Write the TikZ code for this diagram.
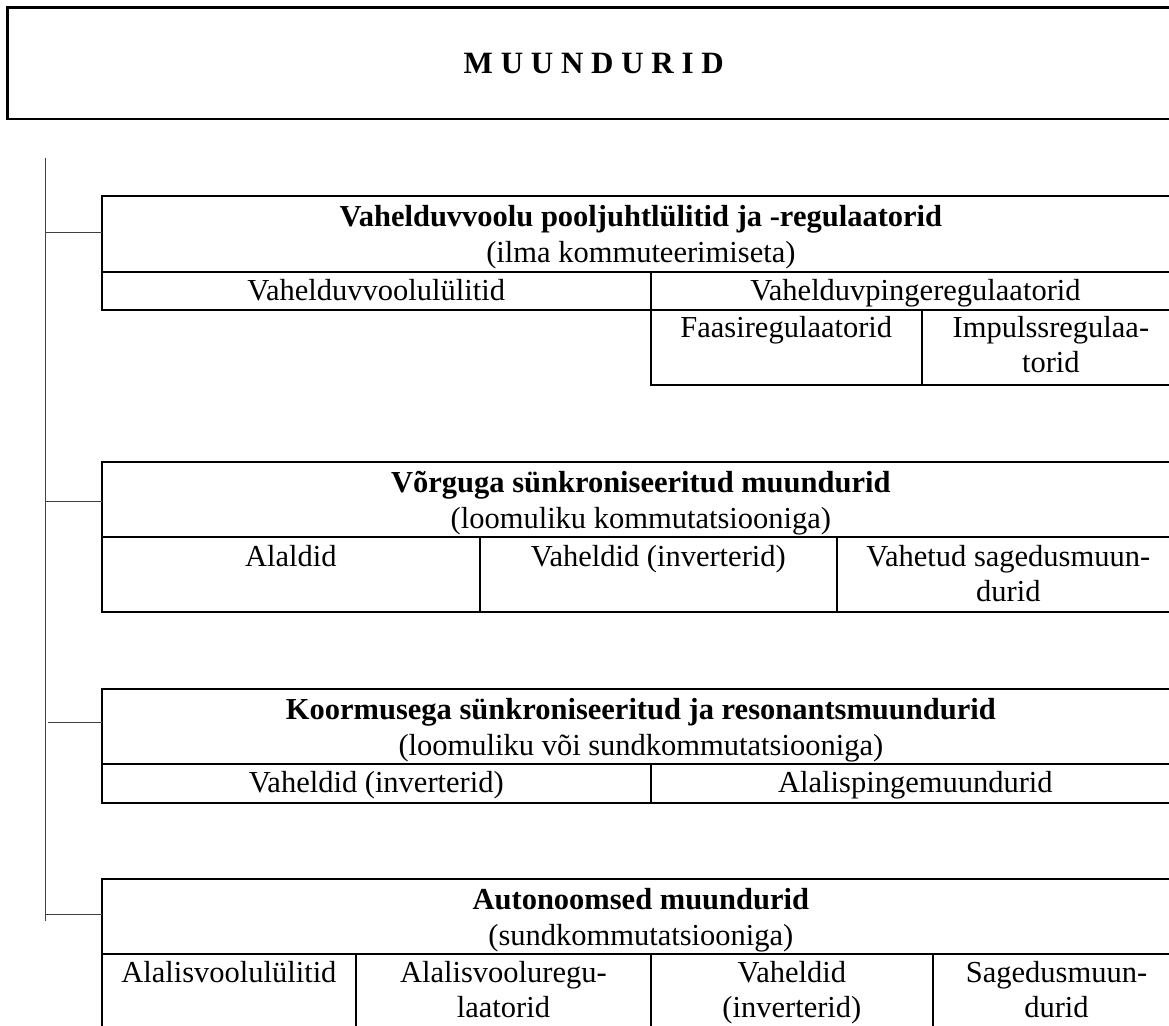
\documentclass[tikz,border=0pt]{standalone}
\usepackage{fontspec}
\setmainfont{Liberation Serif}
\usetikzlibrary{calc}
\begin{document}
\begin{tikzpicture}[x=1pt,y=-1pt,
  every node/.style={inner sep=0pt, outer sep=0pt},
  cellbox/.style={draw, line width=2pt, anchor=north west},
  txt/.style={anchor=base, font=\fontsize{30.5}{35}\selectfont},
  head/.style={anchor=base, font=\fontsize{30.5}{35}\selectfont\bfseries},
  spine/.style={draw=black!75, line width=1.2pt}]
\useasboundingbox (0,0) rectangle (1169,1025);
\clip (0,0) rectangle (1169,1025);

% title
\node[draw, line width=2.5pt, anchor=north west, minimum width=1172.5pt,
      minimum height=111.7pt, font=\fontsize{31}{36}\selectfont\bfseries]
      (title) at (7.5,7.3) {M U U N D U R I D};

% group 1
\node[cellbox, minimum width=1078.3pt, minimum height=75.7pt] (h1) at (101.7,196) {};
\node[cellbox, minimum width=549.1pt, minimum height=38.6pt] (h1a) at (101.7,271.7) {};
\node[cellbox, minimum width=529.2pt, minimum height=38.6pt] (h1b) at (650.8,271.7) {};
\node[cellbox, minimum width=271pt, minimum height=75pt] (h1c) at (650.8,310.3) {};
\node[cellbox, minimum width=258.2pt, minimum height=75pt] (h1d) at (921.8,310.3) {};
\node[head] (h1t1) at ($(h1.north)+(0,30.7)$) {Vahelduvvoolu pooljuhtlülitid ja -regulaatorid};
\node[txt] (h1t2) at ($(h1.north)+(0,66)$) {(ilma kommuteerimiseta)};
\node[txt] (h1at) at ($(h1a.north)+(0,28.3)$) {Vahelduvvoolulülitid};
\node[txt] (h1bt) at ($(h1b.north)+(0,28.3)$) {Vahelduvpingeregulaatorid};
\node[txt] (h1ct) at ($(h1c.north)+(0,27)$) {Faasiregulaatorid};
\node[txt] (h1dt1) at ($(h1d.north)+(0,27)$) {Impulssregulaa-};
\node[txt] (h1dt2) at ($(h1d.north)+(0,62)$) {torid};

% group 2
\node[cellbox, minimum width=1078.3pt, minimum height=75pt] (h2) at (101.7,462.3) {};
\node[cellbox, minimum width=378.3pt, minimum height=75pt] (h2a) at (101.7,537.3) {};
\node[cellbox, minimum width=356.6pt, minimum height=75pt] (h2b) at (480,537.3) {};
\node[cellbox, minimum width=343.4pt, minimum height=75pt] (h2c) at (836.6,537.3) {};
\node[head] (h2t1) at ($(h2.north)+(0,30.5)$) {Võrguga sünkroniseeritud muundurid};
\node[txt] (h2t2) at ($(h2.north)+(0,66)$) {(loomuliku kommutatsiooniga)};
\node[txt] (h2at) at ($(h2a.north)+(0,28.7)$) {Alaldid};
\node[txt] (h2bt) at ($(h2b.north)+(0,28.7)$) {Vaheldid (inverterid)};
\node[txt] (h2ct1) at ($(h2c.north)+(0,28.7)$) {Vahetud sagedusmuun-};
\node[txt] (h2ct2) at ($(h2c.north)+(0,63.7)$) {durid};

% group 3
\node[cellbox, minimum width=1078.3pt, minimum height=74.8pt] (h3) at (101.7,689) {};
\node[cellbox, minimum width=549.1pt, minimum height=38.7pt] (h3a) at (101.7,763.8) {};
\node[cellbox, minimum width=529.2pt, minimum height=38.7pt] (h3b) at (650.8,763.8) {};
\node[head] (h3t1) at ($(h3.north)+(0,30.5)$) {Koormusega sünkroniseeritud ja resonantsmuundurid};
\node[txt] (h3t2) at ($(h3.north)+(0,66)$) {(loomuliku või sundkommutatsiooniga)};
\node[txt] (h3at) at ($(h3a.north)+(0,28.3)$) {Vaheldid (inverterid)};
\node[txt] (h3bt) at ($(h3b.north)+(0,28.3)$) {Alalispingemuundurid};

% group 4
\node[cellbox, minimum width=1078.3pt, minimum height=75pt] (h4) at (101.7,879) {};
\node[cellbox, minimum width=254.3pt, minimum height=120pt] (h4a) at (101.7,954) {};
\node[cellbox, minimum width=294.8pt, minimum height=120pt] (h4b) at (356,954) {};
\node[cellbox, minimum width=282.2pt, minimum height=120pt] (h4c) at (650.8,954) {};
\node[cellbox, minimum width=247pt, minimum height=120pt] (h4d) at (933,954) {};
\node[head] (h4t1) at ($(h4.north)+(0,30.5)$) {Autonoomsed muundurid};
\node[txt] (h4t2) at ($(h4.north)+(0,66)$) {(sundkommutatsiooniga)};
\node[txt] (h4at) at ($(h4a.north)+(0,28.3)$) {Alalisvoolulülitid};
\node[txt] (h4bt1) at ($(h4b.north)+(0,28.3)$) {Alalisvooluregu-};
\node[txt] (h4bt2) at ($(h4b.north)+(0,63.3)$) {laatorid};
\node[txt] (h4ct1) at ($(h4c.north)+(0,28.3)$) {Vaheldid};
\node[txt] (h4ct2) at ($(h4c.north)+(0,63.3)$) {(inverterid)};
\node[txt] (h4dt1) at ($(h4d.north)+(0,28.3)$) {Sagedusmuun-};
\node[txt] (h4dt2) at ($(h4d.north)+(0,63.3)$) {durid};

% tree spine and branches
\coordinate (sTop) at (45.7,158.3);
\coordinate (sBot) at (45.7,920.7);
\coordinate (b1) at (45.7,232.3);
\coordinate (b2) at (45.7,501.7);
\coordinate (b3) at (47.5,722.7);
\coordinate (b4) at (45.7,914.3);
\draw[spine] (sTop) -- (sBot);
\draw[spine] (b1) -- (b1 -| h1.west);
\draw[spine] (b2) -- (b2 -| h2.west);
\draw[spine] (b3) -- (b3 -| h3.west);
\draw[spine] (b4) -- (b4 -| h4.west);
\end{tikzpicture}
\end{document}
